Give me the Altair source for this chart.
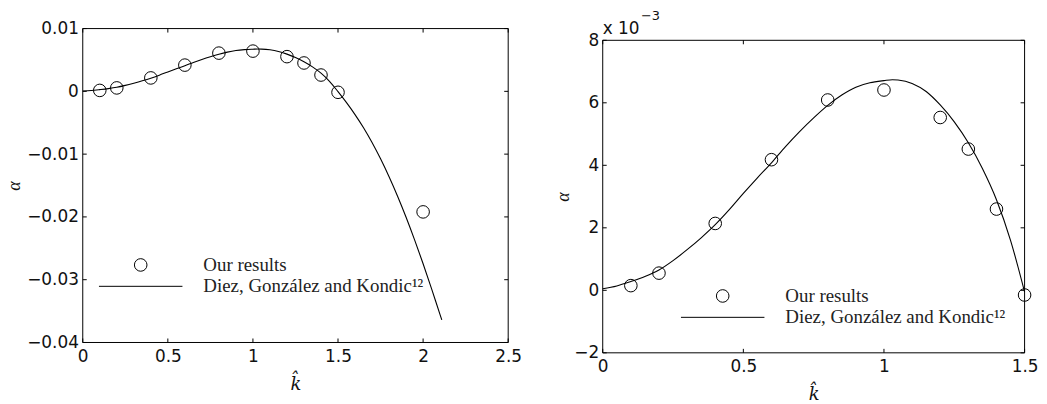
import altair as alt
import pandas as pd

# ---- data (alpha in units of 1e-3) ----
pts_k = [0.1, 0.2, 0.4, 0.6, 0.8, 1.0, 1.2, 1.3, 1.4, 1.5, 2.0]
pts_a = [0.15, 0.55, 2.14, 4.18, 6.09, 6.41, 5.53, 4.52, 2.60, -0.15, -19.2]

curve_k = [0.0, 0.05, 0.1, 0.15, 0.2, 0.25, 0.3, 0.35, 0.4, 0.45, 0.5, 0.55,
           0.6, 0.65, 0.7, 0.75, 0.8, 0.85, 0.9, 0.95, 1.0, 1.03, 1.05, 1.1,
           1.15, 1.2, 1.25, 1.3, 1.35, 1.4, 1.45, 1.5, 1.55, 1.6, 1.65, 1.7,
           1.75, 1.8, 1.85, 1.9, 1.95, 2.0, 2.05, 2.1, 2.11]
curve_a = [0.05, 0.14, 0.28, 0.44, 0.65, 0.95, 1.3, 1.68, 2.1, 2.58, 3.1, 3.6,
           4.08, 4.6, 5.08, 5.52, 5.92, 6.25, 6.5, 6.64, 6.71, 6.74, 6.73, 6.62,
           6.36, 5.93, 5.39, 4.72, 3.9, 2.9, 1.6, -0.05, -1.8, -3.7, -5.8, -8.15,
           -10.75, -13.6, -16.7, -20.05, -23.65, -27.45, -31.45, -35.6, -36.4]

left_xdom = [0, 2.5]
left_ydom = [-0.04, 0.01]
right_xdom = [0, 1.5]
right_ydom = [-2, 8]
left_xticks = [0, 0.5, 1, 1.5, 2, 2.5]
left_yticks = [0.01, 0, -0.01, -0.02, -0.03, -0.04]
right_xticks = [0, 0.5, 1, 1.5]
right_yticks = [-2, 0, 2, 4, 6, 8]

legend_labels = ["Our results", "Diez, González and Kondic¹²"]
multiplier_base = ["x 10"]
multiplier_exp = ["−3"]

INK = "#111111"


def panel(curve_df, pts_df, xdom, ydom, xt, yt, w, top, bottom, lx, ly,
          ylab_pad, ytitle_pad, multiplier=False):
    xs = alt.Scale(domain=xdom, nice=False, zero=False)
    ys = alt.Scale(domain=ydom, range=[bottom, top], nice=False, zero=False)
    xaxis = alt.Axis(values=xt, format="~g", title="k\u0302",
                     labelFlush=False, labelOverlap=False, labelPadding=6,
                     titlePadding=11.4, titleFontSize=18,
                     titleFont="DejaVu Serif")
    yaxis = alt.Axis(values=yt, format="~g", title="α",
                     labelFlush=False, labelOverlap=False,
                     labelPadding=ylab_pad, titlePadding=ytitle_pad,
                     titleFontSize=18)
    X = alt.X("k:Q", scale=xs, axis=xaxis)
    Y = alt.Y("a:Q", scale=ys, axis=yaxis)
    line = alt.Chart(curve_df).mark_line(
        color="black", strokeWidth=1.1, interpolate="monotone"
    ).encode(x=X, y=Y)
    points = alt.Chart(pts_df).mark_point(
        filled=False, color="black", size=160, strokeWidth=1, opacity=1
    ).encode(
        x=X, y=Y,
        shape=alt.Shape(
            "series:N",
            scale=alt.Scale(domain=legend_labels,
                            range=["circle", "M-6.64,0H6.64"]),
            legend=alt.Legend(
                orient="none", legendX=lx, legendY=ly, title=None, padding=0,
                symbolSize=160, symbolStrokeWidth=1, symbolStrokeColor="black",
                symbolFillColor="transparent", labelFont="Liberation Serif",
                labelFontSize=19, labelColor="#222222", labelOffset=53.5,
                labelLimit=500, rowPadding=1.5,
            ),
        ),
    )
    rule = dict(color="black", strokeWidth=1)
    # box around the plot, along the domain limits
    box_df = pd.DataFrame({
        "k": [xdom[0], xdom[0], xdom[0], xdom[1]],
        "k2": [xdom[1], xdom[1], xdom[0], xdom[1]],
        "a": [ydom[1], ydom[0], ydom[0], ydom[0]],
        "a2": [ydom[1], ydom[0], ydom[1], ydom[1]],
    })
    box = alt.Chart(box_df).mark_rule(**rule).encode(
        x=X, x2="k2:Q", y=Y, y2="a2:Q")
    # inward ticks on all four sides
    bx = pd.DataFrame({"k": xt, "a": [ydom[0]] * len(xt)})
    tx = pd.DataFrame({"k": xt, "a": [ydom[1]] * len(xt)})
    ly_df = pd.DataFrame({"a": yt, "k": [xdom[0]] * len(yt)})
    ry_df = pd.DataFrame({"a": yt, "k": [xdom[1]] * len(yt)})
    tick_b = alt.Chart(bx).mark_rule(y2Offset=-4, **rule).encode(x=X, y=Y, y2="a:Q")
    tick_t = alt.Chart(tx).mark_rule(y2Offset=4, **rule).encode(x=X, y=Y, y2="a:Q")
    tick_l = alt.Chart(ly_df).mark_rule(x2Offset=4, **rule).encode(x=X, y=Y, x2="k:Q")
    tick_r = alt.Chart(ry_df).mark_rule(x2Offset=-4, **rule).encode(x=X, y=Y, x2="k:Q")
    layers = [line, points, box, tick_b, tick_t, tick_l, tick_r]
    if multiplier:
        base_df = pd.DataFrame({"k": [xdom[0]], "a": [ydom[1]], "t": multiplier_base})
        exp_df = pd.DataFrame({"k": [xdom[0]], "a": [ydom[1]], "t": multiplier_exp})
        layers.append(alt.Chart(base_df).mark_text(
            align="left", baseline="alphabetic", font="DejaVu Sans",
            fontSize=17, color=INK, dy=-6.6
        ).encode(x=X, y=Y, text="t:N"))
        layers.append(alt.Chart(exp_df).mark_text(
            align="left", baseline="alphabetic", font="DejaVu Sans",
            fontSize=13, color=INK, dx=38.5, dy=-20.5
        ).encode(x=X, y=Y, text="t:N"))
    return alt.layer(*layers).properties(width=w, height=bottom)


curve = pd.DataFrame({"k": curve_k, "a3": curve_a})
pts = pd.DataFrame({"k": pts_k, "a3": pts_a, "series": legend_labels[0]})

left_curve = curve.assign(a=curve["a3"] / 1000.0)
left_pts = pts.assign(a=pts["a3"] / 1000.0)
right_curve = curve[curve["k"] <= 1.5].assign(a=lambda d: d["a3"])
right_pts = pts[pts["k"] <= 1.5].assign(a=lambda d: d["a3"])

left = panel(left_curve, left_pts, left_xdom, left_ydom, left_xticks,
             left_yticks, 428, 18.5, 334.3, 48.8, 246.8, 4.4, 3.4)
right = panel(right_curve, right_pts, right_xdom, right_ydom, right_xticks,
              right_yticks, 424.4, 30.3, 344.7, 111.2, 278.0, 4.0, 1.5,
              multiplier=True)

chart = alt.hconcat(left, right, spacing=30.1).resolve_scale(
    shape="independent"
).resolve_legend(shape="independent").properties(
    padding={"left": -3.8, "top": 0, "right": 0, "bottom": 0}
).configure_view(
    stroke="transparent"
).configure_axis(
    domain=False, ticks=False, grid=False,
    labelFont="DejaVu Sans", labelFontSize=17, labelColor=INK,
    titleFont="Liberation Serif", titleFontStyle="italic",
    titleFontWeight="normal", titleColor=INK,
)

chart.save("out.html", embed_options={"renderer": "svg", "actions": False})
